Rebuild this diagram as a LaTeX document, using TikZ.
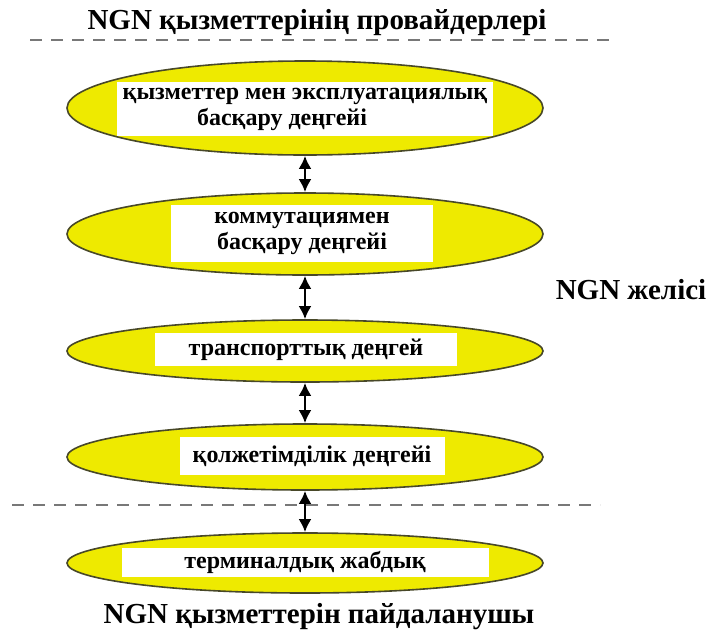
\documentclass[tikz,border=0pt]{standalone}
\usepackage{fontspec}
\setmainfont{Liberation Serif}
\usetikzlibrary{shapes.geometric,arrows.meta}
\definecolor{layeryellow}{RGB}{238,234,0}
\definecolor{layeredge}{RGB}{72,72,40}
\definecolor{sepgrey}{RGB}{120,120,120}

\begin{document}
\begin{tikzpicture}[x=1pt, y=-1pt,
  layer/.style={ellipse, draw=layeredge, line width=1.6pt, fill=layeryellow,
    minimum width=476pt, minimum height=#1, inner sep=0pt},
  labelbox/.style={fill=white, inner sep=0pt, align=center,
    font=\fontsize{24}{26}\selectfont\bfseries},
  heading/.style={font=\fontsize{29}{32}\selectfont\bfseries},
  sepline/.style={sepgrey, line width=2.5pt, dash pattern=on 12pt off 9pt},
  updown/.style={{Latex[length=13pt,width=13pt]}-{Latex[length=13pt,width=13pt]}, line width=2.8pt}]
  \path[fill=white, use as bounding box] (0,0) rectangle (713,633);

  \node[heading] (provider) at (317,23) {NGN қызметтерінің провайдерлері};
  \draw[sepline] (30,40) -- (615,40);

  \node[layer=94pt] (svc) at (305,108) {};
  \node[layer=82pt] (ctrl) at (305,234) {};
  \node[layer=62pt] (trans) at (305,351) {};
  \node[layer=66pt] (access) at (305,457) {};
  \node[layer=60pt] (term) at (305,563) {};

  \node[labelbox, align=left, minimum width=376pt, minimum height=54pt]
    (svcbox) at (305,109) {қызметтер мен эксплуатациялық\\\hspace*{3.1em}басқару деңгейі};
  \node[labelbox, minimum width=262pt, minimum height=57pt] (ctrlbox) at (302,233.5)
    {коммутациямен\\басқару деңгейі};
  \node[labelbox, minimum width=302pt, minimum height=33pt] (transbox) at (306,349.5)
    {транспорттық деңгей};
  \node[labelbox, minimum width=265pt, minimum height=38pt] (accessbox) at (312,456)
    {қолжетімділік деңгейі};
  \node[labelbox, minimum width=367pt, minimum height=29pt] (termbox) at (305,562.5)
    {терминалдық жабдық};

  \draw[updown] (svc.south) -- (ctrl.north);
  \draw[updown] (ctrl.south) -- (trans.north);
  \draw[updown] (trans.south) -- (access.north);
  \draw[sepline] (12,505) -- (600,505);
  \draw[updown] (access.south) -- (term.north);

  \node[heading] (network) at (631,290) {NGN желісі};
  \node[heading] (user) at (319,617) {NGN қызметтерін пайдаланушы};
\end{tikzpicture}
\end{document}
